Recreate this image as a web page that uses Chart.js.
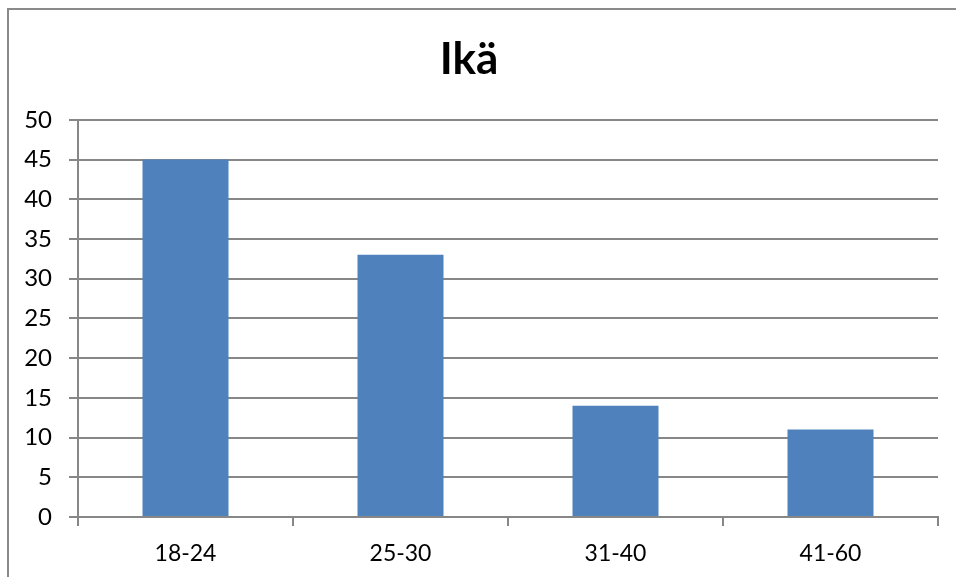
<!DOCTYPE html>
<html>
<head>
<meta charset="utf-8">
<script src="https://cdn.jsdelivr.net/npm/chart.js@4"></script>
<style>
  html, body { margin: 0; padding: 0; background: #fff; }
  #wrap { position: relative; width: 956px; height: 577px; overflow: hidden; }
  #frame { position: absolute; left: 7px; top: 8px; width: 1000px; height: 700px; border-left: 2px solid #8a8a8a; border-top: 2px solid #8a8a8a; }
  canvas { position: absolute; left: 0; top: 0; }
</style>
</head>
<body>
<div id="wrap">
  <div id="frame"></div>
  <canvas id="chart" width="956" height="577"></canvas>
</div>
<script>
const categories = ['18-24', '25-30', '31-40', '41-60'];
const values = [45, 33, 14, 11];
const chartTitle = 'Ikä';

const gridGray = '#878787';

const ctx = document.getElementById('chart').getContext('2d');
const myChart = new Chart(ctx, {
  type: 'bar',
  data: {
    labels: categories,
    datasets: [{
      label: chartTitle,
      data: values,
      backgroundColor: '#4f81bd',
      borderWidth: 0,
      barPercentage: 0.4,
      categoryPercentage: 1
    }]
  },
  options: {
    responsive: false,
    animation: false,
    layout: {
      padding: { left: 0, right: 18, top: 0, bottom: 0 }
    },
    plugins: {
      legend: { display: false },
      tooltip: { enabled: false },
      title: {
        display: true,
        text: chartTitle,
        color: '#000',
        font: { family: 'Lato', size: 44, weight: 'bold', lineHeight: 1.2 },
        padding: { top: 33, bottom: 34 }
      }
    },
    scales: {
      x: {
        grid: {
          offset: true,
          drawOnChartArea: false,
          drawTicks: true,
          tickLength: 9,
          color: gridGray,
          lineWidth: 2
        },
        border: { color: gridGray, width: 2 },
        ticks: {
          color: '#000',
          font: { family: 'Lato', size: 23 },
          padding: 14
        },
        afterFit: function (scale) { scale.height = 60; }
      },
      y: {
        min: 0,
        max: 50,
        ticks: {
          stepSize: 5,
          color: '#000',
          font: { family: 'Lato', size: 24 },
          padding: 17
        },
        grid: {
          color: gridGray,
          lineWidth: 2,
          tickLength: 9
        },
        border: { color: gridGray, width: 2 },
        afterFit: function (scale) { scale.width = 78; }
      }
    }
  }
});
</script>
</body>
</html>
